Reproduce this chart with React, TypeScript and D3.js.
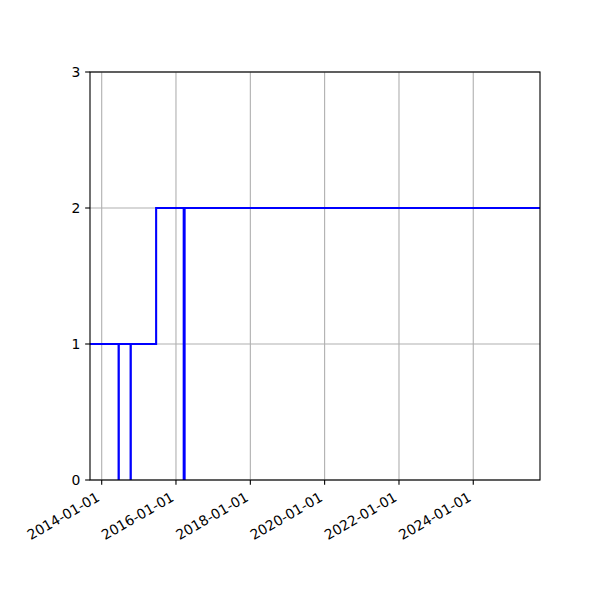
import * as d3 from "d3";

const width = 600;
const height = 600;
const margin = { top: 72, right: 60, bottom: 120, left: 90 };

// step series: state changes over time
const dates = [
  "2013-09-08",
  "2014-06-16",
  "2014-06-18",
  "2014-10-12",
  "2014-10-14",
  "2015-06-20",
  "2016-03-17",
  "2016-03-26",
  "2025-10-18",
];
const values = [1, 0, 1, 0, 1, 2, 0, 2, 2];

const yTicks = [0, 1, 2, 3];
const xTickYears = [2014, 2016, 2018, 2020, 2022, 2024];

const parse = d3.timeParse("%Y-%m-%d");
const fmt = d3.timeFormat("%Y-%m-%d");
const font = "DejaVu Sans, sans-serif";
const pt = 100 / 72;

const App = () => {
  const data = dates.map((d, i) => ({ date: parse(d) as Date, value: values[i] }));
  const x = d3
    .scaleTime()
    .domain([data[0].date, data[data.length - 1].date])
    .range([margin.left, width - margin.right]);
  const y = d3
    .scaleLinear()
    .domain([0, 3])
    .range([height - margin.bottom, margin.top]);

  const line = d3
    .line<{ date: Date; value: number }>()
    .x((d) => x(d.date))
    .y((d) => y(d.value))
    .curve(d3.curveStepAfter);

  const xTicks = xTickYears.map((yr) => new Date(yr, 0, 1));
  const bottom = height - margin.bottom;
  const left = margin.left;
  const right = width - margin.right;
  const tickLen = 3.5 * pt;

  return (
    <svg
      width={width}
      height={height}
      style={{ position: "absolute", left: 0, top: 0, background: "white" }}
    >
      <defs>
        <clipPath id="plot">
          <rect x={left} y={margin.top} width={right - left} height={bottom - margin.top} />
        </clipPath>
      </defs>
      {/* grid */}
      {xTicks.map((t, i) => (
        <line key={"gx" + i} x1={x(t)} x2={x(t)} y1={margin.top} y2={bottom} stroke="#b0b0b0" strokeWidth={0.8 * pt} />
      ))}
      {yTicks.map((t) => (
        <line key={"gy" + t} x1={left} x2={right} y1={y(t)} y2={y(t)} stroke="#b0b0b0" strokeWidth={0.8 * pt} />
      ))}
      <path d={line(data) || ""} fill="none" stroke="#0000ff" strokeWidth={1.5 * pt} clipPath="url(#plot)" />
      {/* frame */}
      <rect x={left} y={margin.top} width={right - left} height={bottom - margin.top} fill="none" stroke="black" strokeWidth={0.8 * pt} />
      {/* y axis */}
      {yTicks.map((t) => (
        <g key={"yt" + t}>
          <line x1={left - tickLen} x2={left} y1={y(t)} y2={y(t)} stroke="black" strokeWidth={0.8 * pt} />
          <text x={left - 2 * tickLen} y={y(t)} dy="0.35em" textAnchor="end" fontFamily={font} fontSize={13.9}>
            {t}
          </text>
        </g>
      ))}
      {/* x axis */}
      {xTicks.map((t, i) => {
        const tx = x(t);
        const ax = tx - 1;
        const ay = bottom + 20;
        return (
          <g key={"xt" + i}>
            <line x1={tx} x2={tx} y1={bottom} y2={bottom + tickLen} stroke="black" strokeWidth={0.8 * pt} />
            <text
              x={ax}
              y={ay}
              textAnchor="end"
              fontFamily={font}
              fontSize={13.9}
              transform={`rotate(-30, ${ax}, ${ay})`}
            >
              {fmt(t)}
            </text>
          </g>
        );
      })}
    </svg>
  );
};

export default App;
